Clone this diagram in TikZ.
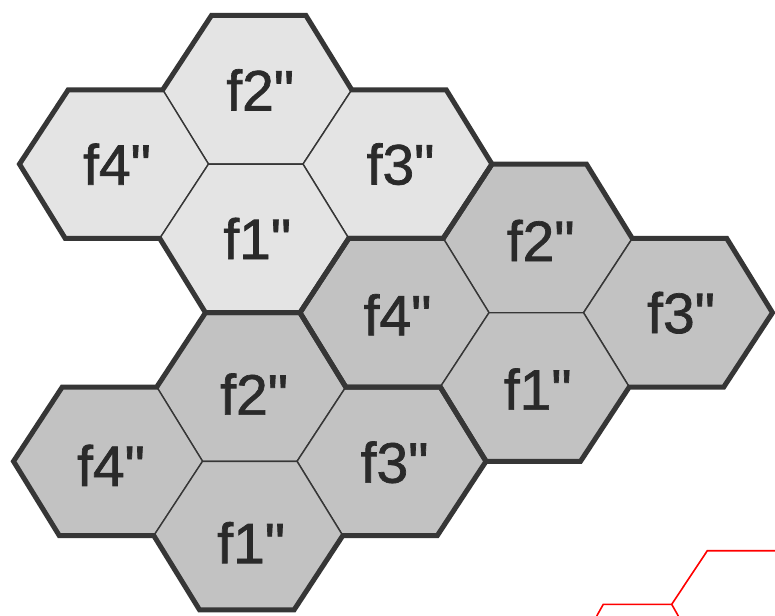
\documentclass[tikz,border=0pt]{standalone}
\usepackage{fontspec}
\setmainfont{Liberation Sans}[Ligatures=TeXOff]
\newfontfamily\lblfont{Liberation Sans}[Ligatures=TeXOff, FakeBold=1.2]
\definecolor{cellLight}{HTML}{E4E4E4}
\definecolor{cellDark}{HTML}{C2C2C2}
\definecolor{edgec}{HTML}{363636}
\definecolor{textc}{HTML}{2A2A2A}
\newcommand\hexcell[3]{%
  \filldraw[#3] ({#1+94.5},#2) -- ++(-47.25,-74.3) -- ++(-94.5,0) -- ++(-47.25,74.3)
    -- ++(47.25,74.3) -- ++(94.5,0) -- cycle;}
\newcommand\clusteroutline[2]{%
  \draw[outline] ({#1-47.25},{#2-74.3}) -- ++(94.5,0) -- ++(47.25,74.3) -- ++(94.5,0)
    -- ++(47.25,74.3) -- ++(-47.25,74.3) -- ++(-94.5,0) -- ++(-47.25,74.3)
    -- ++(-94.5,0) -- ++(-47.25,-74.3) -- ++(-94.5,0) -- ++(-47.25,-74.3)
    -- ++(47.25,-74.3) -- ++(94.5,0) -- cycle;}
\begin{document}
\begin{tikzpicture}[x=1pt,y=-1pt,
  cellA/.style={fill=cellLight, draw=edgec, line width=1.4pt},
  cellB/.style={fill=cellDark, draw=edgec, line width=1.4pt},
  outline/.style={draw=edgec, line width=5pt, line join=miter},
  lbl/.style={font=\lblfont\fontsize{57}{60}\selectfont, text=textc, inner sep=0pt},
  redline/.style={draw=red, line width=1.6pt}]
\useasboundingbox (0,0) rectangle (775,615);
\fill[white] (0,0) rectangle (775,615);
\begin{scope}[xslant=0.02]
  % cluster 1 (light)
  \hexcell{259.0}{89.8}{cellA}
  \hexcell{117.3}{164.1}{cellA}
  \hexcell{400.8}{164.1}{cellA}
  \hexcell{259.0}{238.4}{cellA}
  % cluster 2 (right)
  \hexcell{542.5}{238.4}{cellB}
  \hexcell{400.8}{312.7}{cellB}
  \hexcell{684.3}{312.7}{cellB}
  \hexcell{542.5}{387.0}{cellB}
  % cluster 3 (bottom left)
  \hexcell{259.0}{387.0}{cellB}
  \hexcell{117.3}{461.3}{cellB}
  \hexcell{400.8}{461.3}{cellB}
  \hexcell{259.0}{535.6}{cellB}
  % thick outlines
  \clusteroutline{259.0}{89.8}
  \clusteroutline{542.5}{238.4}
  \clusteroutline{259.0}{387.0}
  % labels
  \node[lbl] (c1f2) at (262.0,89.8) {f2"};
  \node[lbl] (c1f4) at (120.3,164.1) {f4"};
  \node[lbl] (c1f3) at (403.8,164.1) {f3"};
  \node[lbl] (c1f1) at (262.0,238.4) {f1"};
  \node[lbl] (c2f2) at (545.5,240.4) {f2"};
  \node[lbl] (c2f4) at (403.8,314.7) {f4"};
  \node[lbl] (c2f3) at (687.3,312.7) {f3"};
  \node[lbl] (c2f1) at (545.5,389.0) {f1"};
  \node[lbl] (c3f2) at (262.0,394.0) {f2"};
  \node[lbl] (c3f4) at (120.3,465.3) {f4"};
  \node[lbl] (c3f3) at (403.8,462.3) {f3"};
  \node[lbl] (c3f1) at (262.0,542.6) {f1"};
\end{scope}
% red fragment in the lower right corner
\draw[redline] (596.7,616) -- (603.3,604.3) -- (671.7,604.3) -- (707.3,550.7) -- (776,550.7);
\draw[redline] (671.7,604.3) -- (678.3,616);
\end{tikzpicture}
\end{document}
